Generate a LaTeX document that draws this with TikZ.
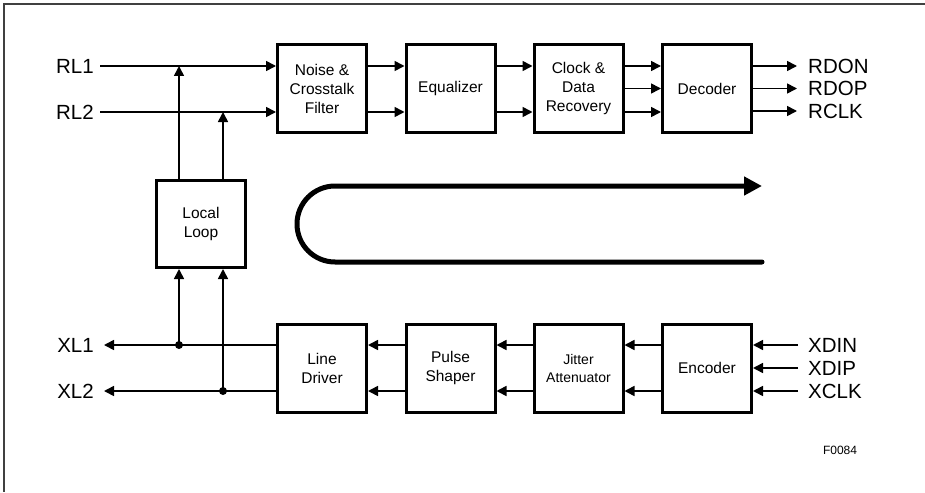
\documentclass[tikz,border=0pt]{standalone}
\usepackage{fontspec}
\setmainfont{Liberation Sans}
\usetikzlibrary{arrows.meta}
\tikzset{
    blk/.style={draw, line width=3pt, minimum width=89pt, minimum height=88pt, align=center, inner sep=1pt, font=\fontsize{15.5}{19}\selectfont},
    pin/.style={inner sep=0pt, font=\fontsize{20.5}{22}\selectfont},
    sig/.style={line width=1.6pt, -{Triangle[length=10pt, width=10pt]}},
    wire/.style={line width=1.6pt}
}

\begin{document}
\begin{tikzpicture}[x=1pt, y=-1pt]
    \useasboundingbox (0,0) rectangle (925,492);
    \draw[line width=1.3pt, black!75] (925,4) -- (4,4) -- (4,492);

    % receive path
    \node(nf)[blk] at (322,88.5) {Noise \&\\Crosstalk\\Filter};
    \node(eq)[blk] at (450.5,88.5) {Equalizer};
    \node(cdr)[blk] at (578.5,88.5) {Clock \&\\Data\\Recovery};
    \node(dec)[blk] at (707,88.5) {Decoder};

    % transmit path
    \node(ld)[blk] at (322,368) {Line\\Driver};
    \node(ps)[blk] at (450.5,368) {Pulse\\Shaper};
    \node(ja)[blk, font=\fontsize{14}{18}\selectfont] at (578.5,368) {Jitter\\Attenuator};
    \node(enc)[blk] at (707,368) {Encoder};

    \node(ll)[blk, minimum height=87pt] at (201,224) {Local\\Loop};

    % pins
    \node(rl1)[pin, anchor=east] at (94,66) {RL1};
    \node(rl2)[pin, anchor=east] at (94,112) {RL2};
    \node(xl1)[pin, anchor=east] at (94,345) {XL1};
    \node(xl2)[pin, anchor=east] at (94,391) {XL2};
    \node(rdon)[pin, anchor=west] at (808,66) {RDON};
    \node(rdop)[pin, anchor=west] at (808,88.5) {RDOP};
    \node(rclk)[pin, anchor=west] at (808,111) {RCLK};
    \node(xdin)[pin, anchor=west] at (808,345) {XDIN};
    \node(xdip)[pin, anchor=west] at (808,368) {XDIP};
    \node(xclk)[pin, anchor=west] at (808,391) {XCLK};
    \node(fig)[font=\fontsize{12}{14}\selectfont] at (840,450) {F0084};

    \coordinate(t1) at (179,66);
    \coordinate(t2) at (223,112);
    \coordinate(d1) at (179,345);
    \coordinate(d2) at (223,391);

    \draw[sig, shorten <=6pt] (rl1.east) -- (nf.west |- rl1);
    \draw[sig, shorten <=6pt] (rl2.east) -- (nf.west |- rl2);
    \draw[sig] ([yshift=22.5pt]nf.east) -- ([yshift=22.5pt]eq.west);
    \draw[sig] ([yshift=-23.5pt]nf.east) -- ([yshift=-23.5pt]eq.west);
    \draw[sig] ([yshift=22.5pt]eq.east) -- ([yshift=22.5pt]cdr.west);
    \draw[sig] ([yshift=-23.5pt]eq.east) -- ([yshift=-23.5pt]cdr.west);
    \draw[sig] ([yshift=22.5pt]cdr.east) -- ([yshift=22.5pt]dec.west);
    \draw[sig] (cdr.east) -- (dec.west);
    \draw[sig] ([yshift=-23.5pt]cdr.east) -- ([yshift=-23.5pt]dec.west);
    \draw[sig, shorten >=11pt] (dec.east |- rdon) -- (rdon.west);
    \draw[sig, shorten >=11pt] (dec.east |- rdop) -- (rdop.west);
    \draw[sig, shorten >=11pt] (dec.east |- rclk) -- (rclk.west);

    \draw[sig, shorten <=10pt] (xdin.west) -- (enc.east |- xdin);
    \draw[sig, shorten <=10pt] (xdip.west) -- (enc.east |- xdip);
    \draw[sig, shorten <=10pt] (xclk.west) -- (enc.east |- xclk);
    \draw[sig] ([yshift=23pt]enc.west) -- ([yshift=23pt]ja.east);
    \draw[sig] ([yshift=-23pt]enc.west) -- ([yshift=-23pt]ja.east);
    \draw[sig] ([yshift=23pt]ja.west) -- ([yshift=23pt]ps.east);
    \draw[sig] ([yshift=-23pt]ja.west) -- ([yshift=-23pt]ps.east);
    \draw[sig] ([yshift=23pt]ps.west) -- ([yshift=23pt]ld.east);
    \draw[sig] ([yshift=-23pt]ps.west) -- ([yshift=-23pt]ld.east);
    \draw[sig, shorten >=10pt] (ld.west |- d1) -- (xl1.east);
    \draw[sig, shorten >=10pt] (ld.west |- d2) -- (xl2.east);

    % local loop
    \draw[sig] (ll.north -| t1) -- (t1);
    \draw[sig] (ll.north -| t2) -- (t2);
    \draw[sig] (d1) -- (ll.south -| d1);
    \draw[sig] (d2) -- (ll.south -| d2);
    \fill (d1) circle[radius=4pt];
    \fill (d2) circle[radius=4pt];

    % loopback
    \draw[line width=5pt, line cap=round, -{Triangle[length=18pt, width=18pt]}] (762,262) -- (335,262) arc[start angle=90, end angle=270, radius=38] -- (762,186);
\end{tikzpicture}
\end{document}
